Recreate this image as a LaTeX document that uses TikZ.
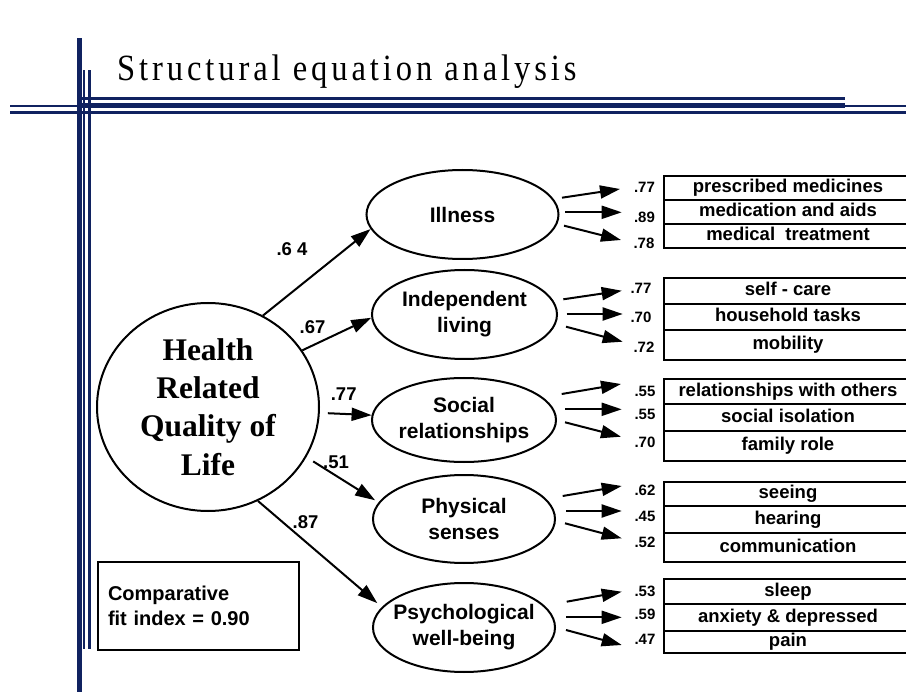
\documentclass[tikz,border=0pt]{standalone}
\usepackage{fontspec}
\setmainfont{Liberation Serif}
\setsansfont{Liberation Sans}
\newfontfamily\titlefont[LetterSpace=12]{Liberation Serif}
\usetikzlibrary{arrows.meta,shapes.geometric,calc}
\definecolor{navy}{RGB}{16,34,96}
\begin{document}
\begin{tikzpicture}[x=1pt,y=-1pt,
  lat/.style={ellipse, draw, line width=2pt, inner sep=0pt},
  lattxt/.style={align=center, inner sep=0pt, font=\sffamily\bfseries\fontsize{21}{26}\selectfont},
  item/.style={rectangle, draw, line width=2pt, minimum width=248pt, inner sep=0pt, text height=13.5pt, text depth=4pt, font=\sffamily\bfseries\fontsize{18.5}{20}\selectfont},
  load/.style={inner sep=0pt, font=\sffamily\bfseries\fontsize{15}{16}\selectfont},
  coef/.style={inner sep=0pt, font=\sffamily\bfseries\fontsize{18.5}{20}\selectfont},
  arr/.style={line width=2pt, -{Triangle[length=20pt,width=13pt]}}]
\useasboundingbox (0,0) rectangle (906,695);
\fill[white] (0,0) rectangle (906,695);
\clip (0,0) rectangle (906,695);
% decorative frame lines
\fill[navy] (76.5,38) rectangle (81.7,692);
\fill[navy] (82.7,70) rectangle (85,649);
\fill[navy] (88,70) rectangle (91,649);
\fill[navy] (82,97.3) rectangle (845,100);
\fill[navy] (82,103.3) rectangle (845,107.7);
\fill[navy] (10,105) rectangle (906,107);
\fill[navy] (10,111) rectangle (906,114.5);
% title
\node[anchor=base west, inner sep=0pt, font=\titlefont\fontsize{37}{40}\selectfont] (title) at (117,81) {\scalebox{0.88}[1]{Structural equation analysis}};
% main latent
\node[ellipse, draw, line width=2pt, minimum width=222pt, minimum height=208pt, inner sep=0pt, align=center, font=\bfseries\fontsize{31.5}{38.3}\selectfont] (hr) at (208,407) {Health\\Related\\Quality of\\Life};
% factors
\node[lat, minimum width=192pt, minimum height=89pt] (ill) at (462.5,214.5) {};
\node[lattxt] (illt) at (ill) {Illness};
\node[lat, minimum width=185pt, minimum height=89pt] (ind) at (464.5,314.5) {};
\node[lattxt] (indt) at (ind) {Independent\\living};
\node[lat, minimum width=184pt, minimum height=84pt] (soc) at (464,420) {};
\node[lattxt] (soct) at (soc) {Social\\relationships};
\node[lat, minimum width=182pt, minimum height=88pt] (phy) at (464,519) {};
\node[lattxt] (phyt) at (phy) {Physical\\senses};
\node[lat, minimum width=182pt, minimum height=89pt] (psy) at (464,627.5) {};
\node[lattxt] (psyt) at (psy) {Psychological\\well-being};
% structural paths
\draw[arr] (hr.59.7) -- (ill.189);
\draw[arr] (hr.31.7) -- (ind.182);
\draw[arr, shorten <=8pt] (hr.-3.8) -- (soc.177);
\draw[arr, shorten <=8pt, shorten >=4pt] (hr.-27.9) -- (phy.169);
\draw[arr, shorten >=6pt] (hr.-62.7) -- (psy.166);
\node[coef] (c1) at (292,249) {.6 4};
\node[coef] (c2) at (312.5,326.7) {.67};
\node[coef] (c3) at (343.7,394) {.77};
\node[coef] (c4) at (336,462.5) {.51};
\node[coef] (c5) at (305.5,522.5) {.87};
% fit box
\node[draw, line width=2pt, minimum width=201pt, minimum height=88pt, text width=181pt, align=left, inner sep=0pt, font=\sffamily\bfseries\fontsize{20}{25}\selectfont] (fit) at (198.5,606) {Comparative\\fit index = 0.90};
% indicator boxes
\node[item, minimum height=24pt] (i1) at (788,188) {prescribed medicines};
\node[item, minimum height=24pt] (i2) at (788,212) {medication and aids};
\node[item, minimum height=24pt] (i3) at (788,236) {medical\ \ treatment};
\node[item, minimum height=26pt] (d1) at (788,291) {self - care};
\node[item, minimum height=26pt] (d2) at (788,317) {household tasks};
\node[item, minimum height=30pt] (d3) at (788,345) {mobility};
\node[item, minimum height=25pt] (s1) at (788,391.5) {relationships with others};
\node[item, minimum height=27pt] (s2) at (788,417.5) {social isolation};
\node[item, minimum height=30pt] (s3) at (788,446) {family role};
\node[item, minimum height=24pt] (p1) at (788,494) {seeing};
\node[item, minimum height=27pt] (p2) at (788,519.5) {hearing};
\node[item, minimum height=29pt] (p3) at (788,547.5) {communication};
\node[item, minimum height=25pt] (w1) at (788,591.5) {sleep};
\node[item, minimum height=27pt] (w2) at (788,617.5) {anxiety \& depressed};
\node[item, minimum height=22pt] (w3) at (788,642) {pain};
% loadings
\node[load] (li1) at (644.5,187) {.77};
\node[load] (li2) at (644.5,217) {.89};
\node[load] (li3) at (644,243.5) {.78};
\node[load] (ld1) at (641,288) {.77};
\node[load] (ld2) at (641,317.5) {.70};
\node[load] (ld3) at (644,347.5) {.72};
\node[load] (ls1) at (645,391) {.55};
\node[load] (ls2) at (645,414.5) {.55};
\node[load] (ls3) at (645,442) {.70};
\node[load] (lp1) at (645,490.5) {.62};
\node[load] (lp2) at (645,516) {.45};
\node[load] (lp3) at (645,542.5) {.52};
\node[load] (lw1) at (645,591.5) {.53};
\node[load] (lw2) at (645,614.5) {.59};
\node[load] (lw3) at (645,639) {.47};
% arrow tips
\coordinate (ti1) at (620,189);
\coordinate (ti2) at (621.7,212.3);
\coordinate (ti3) at (621,240);
\coordinate (td1) at (621.7,290.7);
\coordinate (td2) at (622.7,314);
\coordinate (td3) at (622.7,341.7);
\coordinate (ts1) at (621,384);
\coordinate (ts2) at (621.7,409.3);
\coordinate (ts3) at (621,436.7);
\coordinate (tp1) at (621.7,486);
\coordinate (tp2) at (621.7,511);
\coordinate (tp3) at (621.7,538.3);
\coordinate (tw1) at (621.7,591.7);
\coordinate (tw2) at (621.7,617.3);
\coordinate (tw3) at (621.7,645);
% loading arrows
\draw[arr] ($(ill.east)+(2.5,-16.8)$) -- (ti1);
\draw[arr] ($(ill.east)+(5.5,-2.2)$) -- (ti2);
\draw[arr] ($(ill.east)+(4.5,11.2)$) -- (ti3);
\draw[arr] ($(ind.east)+(5.3,-15.2)$) -- (td1);
\draw[arr] ($(ind.east)+(8.7,-0.5)$) -- (td2);
\draw[arr] ($(ind.east)+(8,12.2)$) -- (td3);
\draw[arr] ($(soc.east)+(4.7,-26)$) -- (ts1);
\draw[arr] ($(soc.east)+(8,-10.7)$) -- (ts2);
\draw[arr] ($(soc.east)+(8,2.3)$) -- (ts3);
\draw[arr] ($(phy.east)+(6.7,-23)$) -- (tp1);
\draw[arr] ($(phy.east)+(10,-8)$) -- (tp2);
\draw[arr] ($(phy.east)+(9,4.3)$) -- (tp3);
\draw[arr] ($(psy.east)+(10.7,-25.8)$) -- (tw1);
\draw[arr] ($(psy.east)+(10,-10.2)$) -- (tw2);
\draw[arr] ($(psy.east)+(10,2.5)$) -- (tw3);
\end{tikzpicture}
\end{document}
